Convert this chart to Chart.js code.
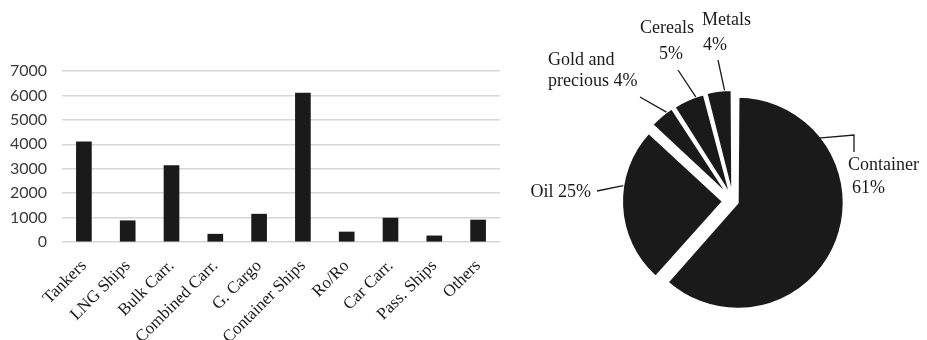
<!DOCTYPE html>
<html>
<head>
<meta charset="utf-8">
<script src="https://cdn.jsdelivr.net/npm/chart.js@4.4.0/dist/chart.umd.min.js"></script>
<style>
  body { margin: 0; background: #fff; width: 927px; height: 340px; overflow: hidden; }
  #barBox { position: absolute; left: 0; top: 0; }
  #pieBox { position: absolute; left: 520px; top: 0; }
</style>
</head>
<body>
<div id="barBox"><canvas id="barChart" width="510" height="340"></canvas></div>
<div id="pieBox"><canvas id="pieChart" width="407" height="340"></canvas></div>
<script>
// ship types (left chart)
const shipTypes = ['Tankers', 'LNG Ships', 'Bulk Carr.', 'Combined Carr.', 'G. Cargo',
                   'Container Ships', 'Ro/Ro', 'Car Carr.', 'Pass. Ships', 'Others'];
const shipCounts = [4100, 870, 3130, 320, 1140, 6100, 410, 980, 250, 900];
const yTicks = [0, 1000, 2000, 3000, 4000, 5000, 6000, 7000];

// cargo share (right chart)
const cargoTypes = ['Container', 'Oil', 'Gold and precious', 'Cereals', 'Metals'];
const cargoShare = [61, 25, 4, 5, 4];

const serif = '"Liberation Serif", "DejaVu Serif", serif';
const ink = '#1a1a1a';

new Chart(document.getElementById('barChart').getContext('2d'), {
    type: 'bar',
    data: {
        labels: shipTypes,
        datasets: [{
            data: shipCounts,
            backgroundColor: ink,
            barThickness: 15
        }]
    },
    options: {
        responsive: false,
        animation: false,
        layout: { padding: { top: 71, right: 10, left: 0, bottom: 0 } },
        plugins: { legend: { display: false }, tooltip: { enabled: false } },
        scales: {
            x: {
                grid: { display: false },
                border: { display: false },
                ticks: {
                    minRotation: 45, maxRotation: 45, padding: 6,
                    color: ink, font: { family: serif, size: 17 }
                },
                afterFit: s => { s.height = 98; }
            },
            y: {
                min: 0, max: 7000,
                afterBuildTicks: s => { s.ticks = yTicks.map(v => ({ value: v })); },
                grid: { color: '#d6d6d6', lineWidth: 1.5, drawTicks: false },
                border: { display: false },
                ticks: {
                    padding: 15, color: '#3a3a3a',
                    font: { family: 'Lato, sans-serif', size: 16 },
                    callback: v => String(v)
                },
                afterFit: s => { s.width = 62; }
            }
        }
    }
});

// label text and leader lines for the pie, anchored on each slice edge
const pieNotes = [
    { frac: 0.22, path: [[334, 135], [334, 152]], lines: [['Container', 328, 170], ['61%', 332, 193]], align: 'left' },
    { frac: 0.63, path: [[77, 191]], lines: [['Oil 25%', 71, 197]], align: 'right' },
    { frac: 0.74, path: [[120, 97]], lines: [['Gold and', 28, 65], ['precious 4%', 28, 86]], align: 'left' },
    { frac: 0.74, path: [[158, 70]], lines: [['Cereals', 120, 33], ['5%', 139, 59]], align: 'left' },
    { frac: 0.72, path: [[198, 60]], lines: [['Metals', 182, 25], ['4%', 183, 50]], align: 'left' }
];
const sliceOffsets = [20, 40, 23, 23, 23];

const pieNotesPlugin = {
    id: 'pieNotes',
    afterDraw(chart) {
        const ctx = chart.ctx;
        const arcs = chart.getDatasetMeta(0).data;
        ctx.save();
        ctx.strokeStyle = ink;
        ctx.lineWidth = 1.3;
        ctx.fillStyle = ink;
        ctx.font = '18px ' + serif;
        ctx.textBaseline = 'alphabetic';
        pieNotes.forEach((n, i) => {
            const a = arcs[i];
            const circ = a.endAngle - a.startAngle;
            const mid = (a.startAngle + a.endAngle) / 2;
            const off = sliceOffsets[i] / 4;
            const fix = 1 - Math.sin(Math.min(Math.PI, circ));
            const shift = off + off * fix;
            const cx = a.x + Math.cos(mid) * shift;
            const cy = a.y + Math.sin(mid) * shift;
            const ang = a.startAngle + circ * n.frac;
            ctx.beginPath();
            ctx.moveTo(cx + Math.cos(ang) * a.outerRadius, cy + Math.sin(ang) * a.outerRadius);
            n.path.forEach(p => ctx.lineTo(p[0], p[1]));
            ctx.stroke();
            ctx.textAlign = n.align;
            n.lines.forEach(t => ctx.fillText(t[0], t[1], t[2]));
        });
        ctx.restore();
    }
};

new Chart(document.getElementById('pieChart').getContext('2d'), {
    type: 'pie',
    data: {
        labels: cargoTypes,
        datasets: [{
            data: cargoShare,
            backgroundColor: ink,
            borderColor: '#ffffff',
            borderWidth: 2,
            offset: sliceOffsets
        }]
    },
    options: {
        responsive: false,
        animation: false,
        radius: 101,
        layout: { padding: { top: 62, left: 19, right: 0, bottom: 0 } },
        plugins: { legend: { display: false }, tooltip: { enabled: false } }
    },
    plugins: [pieNotesPlugin]
});
</script>
</body>
</html>
